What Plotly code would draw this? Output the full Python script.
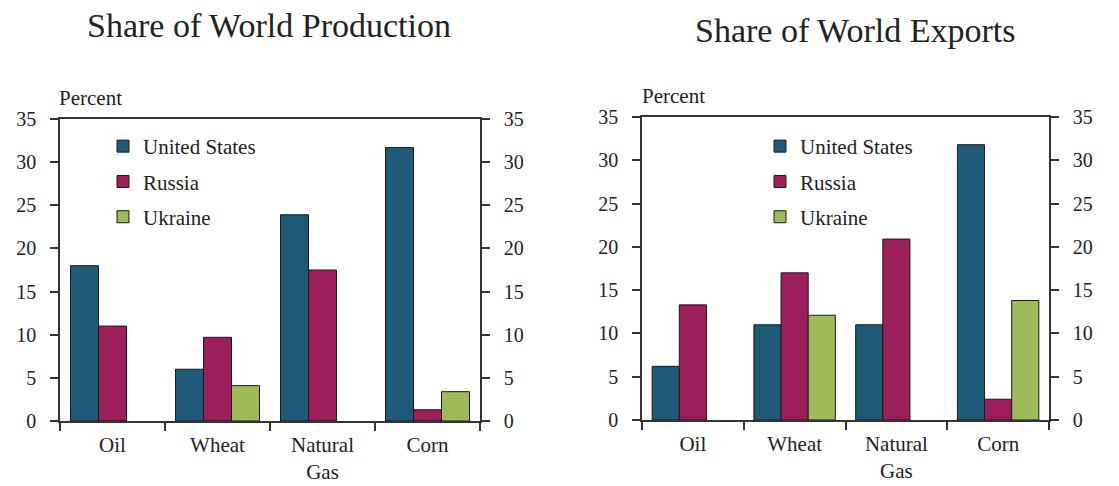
import plotly.graph_objects as go

categories = ["Oil", "Wheat", "Natural<br>Gas", "Corn"]
series_names = ["United States", "Russia", "Ukraine"]

production_us = [18.0, 6.0, 23.9, 31.7]
production_russia = [11.0, 9.7, 17.5, 1.3]
production_ukraine = [None, 4.1, None, 3.4]

exports_us = [6.2, 11.0, 11.0, 31.8]
exports_russia = [13.3, 17.0, 20.9, 2.4]
exports_ukraine = [None, 12.1, None, 13.8]

y_ticks = [0, 5, 10, 15, 20, 25, 30, 35]

colors = ["#1f5a78", "#9c1f59", "#9dbb58"]
FONT = "'Liberation Serif', 'DejaVu Serif', serif"
TXT = "#222222"
LINE = "#333333"
W, H = 1119, 486

fig = go.Figure()

prod = [production_us, production_russia, production_ukraine]
expo = [exports_us, exports_russia, exports_ukraine]

for i, name in enumerate(series_names):
    fig.add_trace(go.Bar(
        x=categories, y=prod[i], name=name, xaxis="x", yaxis="y",
        marker=dict(color=colors[i], line=dict(color="#1a1a1a", width=1)),
        legend="legend", legendgroup="p" + str(i), hoverinfo="skip"))
for i, name in enumerate(series_names):
    fig.add_trace(go.Bar(
        x=categories, y=expo[i], name=name, xaxis="x2", yaxis="y2",
        marker=dict(color=colors[i], line=dict(color="#1a1a1a", width=1)),
        legend="legend2", legendgroup="e" + str(i), hoverinfo="skip"))

# dummy traces so the right-hand axes are drawn
fig.add_trace(go.Scatter(x=categories, y=[None] * 4, xaxis="x", yaxis="y3",
                         showlegend=False, hoverinfo="skip"))
fig.add_trace(go.Scatter(x=categories, y=[None] * 4, xaxis="x2", yaxis="y4",
                         showlegend=False, hoverinfo="skip"))

def px_x(p):
    return p / W

def px_y(p):
    return 1 - p / H

tickfont = dict(family=FONT, size=20, color=TXT)

xcommon = dict(showline=True, linecolor=LINE, linewidth=1.5, mirror=True,
               ticks="outside", ticklen=8, tickcolor=LINE, tickwidth=1.5,
               tickson="boundaries", tickfont=dict(family=FONT, size=21, color=TXT),
               ticklabelstandoff=4,
               showgrid=False, zeroline=False, fixedrange=True, automargin=False)
ycommon = dict(range=[0, 35], tickvals=y_ticks, showline=True, linecolor=LINE,
               linewidth=1.5, ticks="outside", ticklen=8, tickcolor=LINE,
               tickwidth=1.5, tickfont=tickfont, showgrid=False, zeroline=False,
               ticklabelstandoff=10, fixedrange=True, automargin=False)

legfont = dict(family=FONT, size=21, color=TXT)

fig.update_layout(
    width=W, height=H,
    margin=dict(l=0, r=0, t=0, b=0, autoexpand=False),
    paper_bgcolor="white", plot_bgcolor="white",
    barmode="group", bargap=0.2, bargroupgap=0,
    font=dict(family=FONT, color=TXT),
    xaxis=dict(domain=[px_x(60), px_x(480)], anchor="y", **xcommon),
    yaxis=dict(domain=[px_y(421), px_y(119)], anchor="x", side="left", **ycommon),
    yaxis3=dict(overlaying="y", anchor="x", side="right", **ycommon),
    xaxis2=dict(domain=[px_x(642), px_x(1049)], anchor="y2", **xcommon),
    yaxis2=dict(domain=[px_y(420), px_y(117)], anchor="x2", side="left", **ycommon),
    yaxis4=dict(overlaying="y2", anchor="x2", side="right", **ycommon),
    legend=dict(x=px_x(103), y=px_y(126), xanchor="left", yanchor="top",
                bgcolor="rgba(0,0,0,0)", font=legfont,
                tracegroupgap=5, itemclick=False, itemdoubleclick=False),
    legend2=dict(x=px_x(760), y=px_y(126), xanchor="left", yanchor="top",
                 bgcolor="rgba(0,0,0,0)", font=legfont,
                 tracegroupgap=5, itemclick=False, itemdoubleclick=False),
    showlegend=True,
    annotations=[
        dict(text="Share of World Production", x=px_x(269), y=px_y(25),
             xref="paper", yref="paper", xanchor="center", yanchor="middle",
             showarrow=False, font=dict(family=FONT, size=34, color=TXT)),
        dict(text="Share of World Exports", x=px_x(855), y=px_y(30),
             xref="paper", yref="paper", xanchor="center", yanchor="middle",
             showarrow=False, font=dict(family=FONT, size=34, color=TXT)),
        dict(text="Percent", x=px_x(57), y=px_y(98), xref="paper", yref="paper",
             xanchor="left", yanchor="middle", showarrow=False,
             font=dict(family=FONT, size=21, color=TXT)),
        dict(text="Percent", x=px_x(640), y=px_y(96), xref="paper", yref="paper",
             xanchor="left", yanchor="middle", showarrow=False,
             font=dict(family=FONT, size=21, color=TXT)),
    ],
)

fig.write_html("out.html")
